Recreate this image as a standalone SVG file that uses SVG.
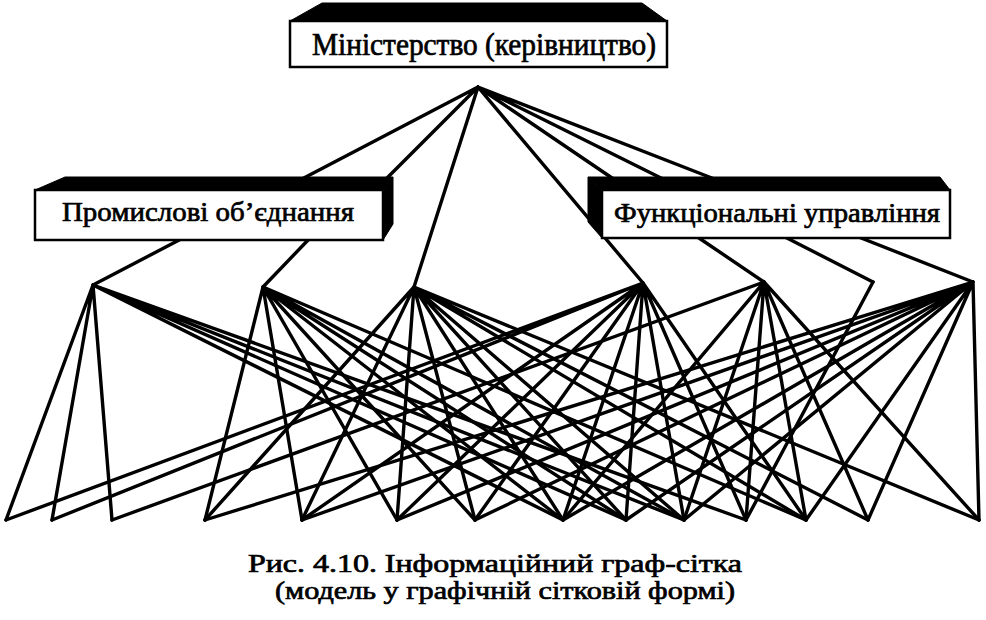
<svg xmlns="http://www.w3.org/2000/svg" width="986" height="620" viewBox="0 0 986 620">
<style>
.e{fill:none;stroke:#000;stroke-width:3.4;stroke-linejoin:round;stroke-linecap:round}
.face{fill:#fff;stroke:#000;stroke-width:2.5}
.dark{fill:#000;stroke:#000;stroke-width:1}
.t{font-family:'Liberation Serif','Times New Roman',serif;fill:#000;stroke:#000;stroke-width:0.7;text-anchor:middle}
</style>
<rect width="986" height="620" fill="#fff"/>
<g id="connectors">
<path class="e" d="M478,87 L300,180 M478,87 L385,180 M478,87 L414,287 M478,87 L643,283 M478,87 L615,180 M478,87 L665,180 M478,87 L717,180"/>
<path class="e" d="M183,238 L93,285 M310,238 L263,287"/>
<path class="e" d="M696,236 L764,282 M783,236 L873,282 M856,236 L973,282"/>
<path class="e" d="M93,285 L6,520 M93,285 L52,520 M93,285 L112,520 M93,285 L563,520 M93,285 L626,520 M93,285 L684,520 M93,285 L746,520"/>
<path class="e" d="M263,287 L205,520 M263,287 L302,520 M263,287 L397,520 M263,287 L475,520 M263,287 L563,520 M263,287 L626,520 M263,287 L684,520 M263,287 L806,520"/>
<path class="e" d="M414,287 L205,520 M414,287 L302,520 M414,287 L397,520 M414,287 L475,520 M414,287 L563,520 M414,287 L626,520 M414,287 L684,520 M414,287 L806,520 M414,287 L868,520 M414,287 L979,520"/>
<path class="e" d="M643,283 L6,520 M643,283 L52,520 M643,283 L302,520 M643,283 L397,520 M643,283 L475,520 M643,283 L563,520 M643,283 L626,520 M643,283 L684,520 M643,283 L746,520 M643,283 L806,520"/>
<path class="e" d="M764,282 L112,520 M764,282 L563,520 M764,282 L684,520 M764,282 L746,520 M764,282 L806,520 M764,282 L868,520 M764,282 L979,520"/>
<path class="e" d="M873,282 L746,520"/>
<path class="e" d="M973,282 L205,520 M973,282 L302,520 M973,282 L397,520 M973,282 L475,520 M973,282 L563,520 M973,282 L626,520 M973,282 L684,520 M973,282 L806,520 M973,282 L868,520 M973,282 L979,520"/>
</g>
<g id="ministry">
<polygon class="dark" points="290,21 322,3 642,3 667,21"/>
<rect class="face" x="290" y="21" width="377" height="46"/>
<text class="t" x="484" y="55" font-size="31" textLength="344" lengthAdjust="spacingAndGlyphs">Міністерство (керівництво)</text>
</g>
<g id="industrial">
<polygon class="dark" points="35,190 65,177 393,177 383,190"/>
<polygon class="dark" points="383,190 393,177 393,224 383,240"/>
<rect class="face" x="35" y="190" width="348" height="50"/>
<text class="t" x="208" y="221" font-size="27" textLength="292" lengthAdjust="spacingAndGlyphs">Промислові об’єднання</text>
</g>
<g id="functional">
<polygon class="dark" points="602,190 588,177 940,177 950,190"/>
<polygon class="dark" points="602,190 588,177 588,222 602,238"/>
<rect class="face" x="602" y="190" width="348" height="48"/>
<text class="t" x="777" y="222" font-size="27" textLength="326" lengthAdjust="spacingAndGlyphs">Функціональні управління</text>
</g>
<g id="caption">
<text class="t" x="495" y="572" font-size="25" stroke-width="0.4" textLength="494" lengthAdjust="spacingAndGlyphs">Рис. 4.10. Інформаційний граф-сітка</text>
<text class="t" x="505" y="599" font-size="25" stroke-width="0.4" textLength="460" lengthAdjust="spacingAndGlyphs">(модель у графічній сітковій формі)</text>
</g>
</svg>
